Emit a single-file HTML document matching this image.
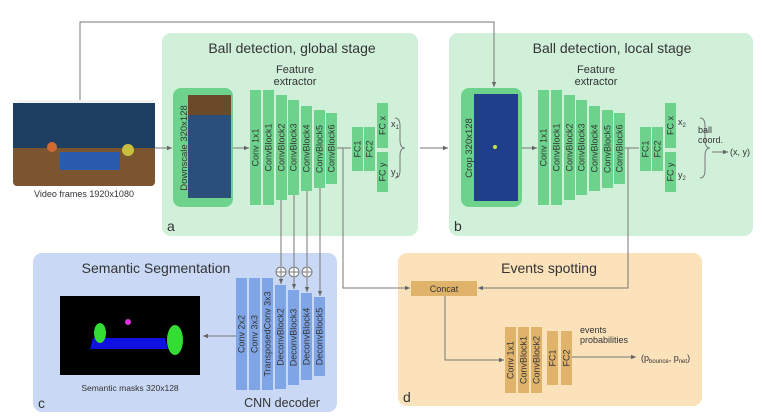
<!DOCTYPE html>
<html><head><meta charset="utf-8"><style>
html,body{margin:0;padding:0;background:#fff;}
svg{display:block;font-family:"Liberation Sans",sans-serif;}
</style></head><body>
<svg width="762" height="418" viewBox="0 0 762 418">
<defs>
<marker id="ah" markerWidth="6" markerHeight="6" refX="5" refY="3" orient="auto"><path d="M0,0.8 L5,3 L0,5.2 z" fill="#666"/></marker>
</defs>
<!-- panels -->
<rect x="162" y="33" width="256" height="203" rx="9" fill="#d0f0da"/>
<rect x="449" y="33" width="304" height="203" rx="9" fill="#d0f0da"/>
<rect x="33" y="253" width="304" height="159" rx="9" fill="#c9d9f5"/>
<rect x="398" y="253" width="304" height="153" rx="9" fill="#fbe2bb"/>

<g fill="#333" font-size="14">
<text x="292" y="53" text-anchor="middle">Ball detection, global stage</text>
<text x="612" y="53" text-anchor="middle">Ball detection, local stage</text>
<text x="156" y="273" text-anchor="middle">Semantic Segmentation</text>
<text x="549" y="273" text-anchor="middle">Events spotting</text>
<text x="282" y="407" text-anchor="middle" font-size="12.5">CNN decoder</text>
</g>
<g fill="#333" font-size="11" text-anchor="middle">
<text x="295" y="73">Feature</text><text x="295" y="85">extractor</text>
<text x="596" y="73">Feature</text><text x="596" y="85">extractor</text>
</g>
<g fill="#333" font-size="14">
<text x="167" y="231">a</text>
<text x="454" y="231">b</text>
<text x="38" y="408">c</text>
<text x="403" y="402">d</text>
</g>

<!-- connecting lines -->
<g stroke="#777" stroke-width="1" fill="none">
<path d="M80,103 V22 H494 V87" marker-end="url(#ah)"/>
<path d="M155,148 H172" marker-end="url(#ah)"/>
<path d="M233,148 H249" marker-end="url(#ah)"/>
<path d="M337,148 H351"/>
<path d="M420,148 H448" marker-end="url(#ah)"/>
<path d="M522,148 H537" marker-end="url(#ah)"/>
<path d="M624,148 H639"/>
<path d="M343,148 V288 H410" marker-end="url(#ah)"/>
<path d="M628,148 V288 H478" marker-end="url(#ah)"/>
<path d="M445,296 V360 H504" marker-end="url(#ah)"/>
<path d="M571,357 H636" marker-end="url(#ah)"/>
<path d="M236,336 H203" marker-end="url(#ah)"/>
<path d="M281,200 V266 M281,278 V284" marker-end="url(#ah)"/>
<path d="M294,195 V266 M294,278 V289" marker-end="url(#ah)"/>
<path d="M307,191 V266 M307,278 V292" marker-end="url(#ah)"/>
<path d="M320,188 V296" marker-end="url(#ah)"/>
<path d="M712,152 H728" marker-end="url(#ah)"/>
<path d="M395,118 q5,0 5,8 v14 q0,8 5,8 q-5,0 -5,8 v14 q0,8 -5,8"/>
<path d="M700,118 q5,0 5,8 v14 q0,8 5,8 q-5,0 -5,8 v14 q0,8 -5,8"/>
</g>
<g fill="#fff" stroke="#777">
<circle cx="281" cy="272" r="5"/><circle cx="294" cy="272" r="5"/><circle cx="307" cy="272" r="5"/>
</g>
<g stroke="#777"><path d="M276,272h10M281,267v10M289,272h10M294,267v10M302,272h10M307,267v10"/></g>

<!-- video frames -->
<g>
<rect x="17" y="100" width="138" height="83" fill="#f3f3f3"/>
<rect x="13" y="103" width="142" height="83" rx="4" fill="#7a5530"/>
<rect x="13" y="103" width="142" height="45" fill="#1e3e62"/>
<rect x="60" y="152" width="60" height="18" fill="#2a5cae"/>
<circle cx="52" cy="147" r="5" fill="#d06a30"/><circle cx="128" cy="150" r="6" fill="#c9c040"/>
</g>
<text x="84" y="197" font-size="9" fill="#333" text-anchor="middle">Video frames 1920x1080</text>

<!-- downscale / crop boxes -->
<rect x="173" y="88" width="60" height="119" rx="8" fill="#6dd38c"/>
<rect x="188" y="95" width="43" height="103" fill="#2a4f7a"/>
<rect x="188" y="95" width="43" height="20" fill="#6b4a2a"/>
<text x="184" y="148" font-size="9.5" fill="#333" text-anchor="middle" transform="rotate(-90 184 148)" dy="3">Downscale 320x128</text>
<rect x="461" y="88" width="61" height="119" rx="8" fill="#6dd38c"/>
<rect x="474" y="94" width="44" height="107" fill="#1f3f8a"/>
<circle cx="495" cy="147" r="2" fill="#cde040"/>
<text x="469" y="148" font-size="9.5" fill="#333" text-anchor="middle" transform="rotate(-90 469 148)" dy="3">Crop 320x128</text>

<!-- segmentation mask -->
<rect x="60" y="296" width="140" height="79" fill="#000"/>
<polygon points="93,338 165,338 168,349 90,349" fill="#1010e0"/>
<ellipse cx="100" cy="333" rx="6" ry="10" fill="#33dd33"/>
<ellipse cx="175" cy="340" rx="8" ry="15" fill="#33dd33"/>
<circle cx="128" cy="322" r="3" fill="#e030e0"/>
<text x="130" y="391" font-size="8.5" fill="#333" text-anchor="middle">Semantic masks 320x128</text>

<g id="blocks" font-size="9" fill="#333"></g>

<!-- concat -->
<rect x="411" y="281" width="66" height="15" fill="#e0b36a"/>
<text x="444" y="292" font-size="9" fill="#333" text-anchor="middle">Concat</text>

<g font-size="9" fill="#333">
<text x="391" y="127">x<tspan font-size="6" dy="2">1</tspan></text>
<text x="391" y="175">y<tspan font-size="6" dy="2">1</tspan></text>
<text x="678" y="125">x<tspan font-size="6" dy="2">2</tspan></text>
<text x="678" y="178">y<tspan font-size="6" dy="2">2</tspan></text>
<text x="698" y="133">ball</text><text x="698" y="143">coord.</text>
<text x="730" y="155">(x, y)</text>
<text x="580" y="333">events</text><text x="580" y="343">probabilities</text>
<text x="641" y="361">(p<tspan font-size="6" dy="2">bounce</tspan><tspan dy="-2">, p</tspan><tspan font-size="6" dy="2">net</tspan><tspan dy="-2">)</tspan></text>
</g>
</svg>
<script>
const G='#6dd38c',B='#7fa5e6',O='#e0b36a';
const blocks=[
// label,x,y0,y1,color
['Conv 1x1',250,90,205,G],['ConvBlock1',263,90,205,G],['ConvBlock2',276,95,200,G],['ConvBlock3',288,100,195,G],['ConvBlock4',301,106,191,G],['ConvBlock5',314,110,188,G],['ConvBlock6',326,113,184,G],
['FC1',352,127,171,G],['FC2',364,127,171,G],['FC x',377,103,148,G],['FC y',377,152,192,G],
['Conv 1x1',538,90,205,G],['ConvBlock1',551,90,205,G],['ConvBlock2',564,95,200,G],['ConvBlock3',576,100,195,G],['ConvBlock4',589,106,191,G],['ConvBlock5',602,110,188,G],['ConvBlock6',614,113,184,G],
['FC1',640,127,171,G],['FC2',652,127,171,G],['FC x',665,103,148,G],['FC y',665,152,192,G],
['Conv 2x2',236,278,390,B],['Conv 3x3',249,278,390,B],['TransposedConv 3x3',262,278,390,B],['DeconvBlock2',275,285,389,B],['DeconvBlock3',288,290,385,B],['DeconvBlock4',301,293,380,B],['DeconvBlock5',314,297,376,B],
['Conv 1x1',505,327,393,O],['ConvBlock1',518,327,393,O],['ConvBlock2',531,327,393,O],['FC1',547,331,385,O],['FC2',561,331,385,O]
];
const g=document.getElementById('blocks');const ns='http://www.w3.org/2000/svg';
blocks.forEach(b=>{
 const r=document.createElementNS(ns,'rect');
 r.setAttribute('x',b[1]);r.setAttribute('y',b[2]);r.setAttribute('width',11);r.setAttribute('height',b[3]-b[2]);r.setAttribute('fill',b[4]);
 
 
 g.appendChild(r);
 const t=document.createElementNS(ns,'text');
 const cx=b[1]+5.5,cy=(b[2]+b[3])/2;
 t.setAttribute('x',cx);t.setAttribute('y',cy+3);t.setAttribute('text-anchor','middle');
 t.setAttribute('transform','rotate(-90 '+cx+' '+cy+')');t.textContent=b[0];
 
 
 g.appendChild(t);
});
</script>
</body></html>
